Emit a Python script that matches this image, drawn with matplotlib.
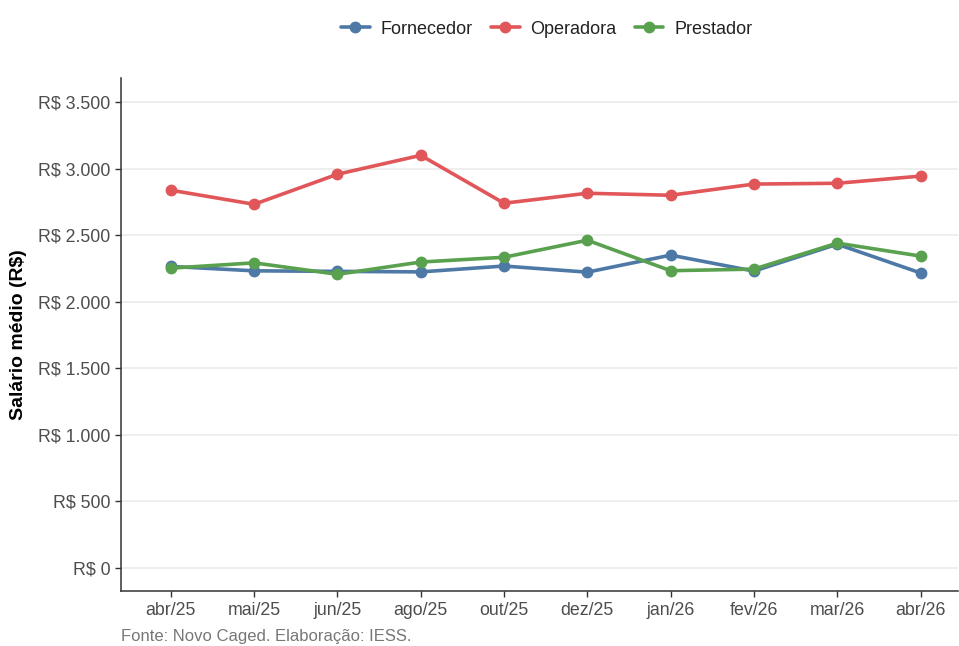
import matplotlib
matplotlib.use("Agg")
import matplotlib.pyplot as plt

meses = ["abr/25", "mai/25", "jun/25", "ago/25", "out/25", "dez/25",
         "jan/26", "fev/26", "mar/26", "abr/26"]
fornecedor = [2265, 2232, 2228, 2224, 2268, 2222, 2350, 2230, 2432, 2216]
operadora = [2838, 2732, 2958, 3100, 2740, 2815, 2800, 2884, 2890, 2944]
prestador = [2252, 2292, 2206, 2298, 2334, 2462, 2233, 2245, 2440, 2343]
yticks = [0, 500, 1000, 1500, 2000, 2500, 3000, 3500]

plt.rcParams["font.family"] = ["Liberation Sans", "DejaVu Sans"]

fig = plt.figure(figsize=(9.59, 6.46), dpi=100)
ax = fig.add_axes([0.126, 0.085, 0.873, 0.794])

x = range(len(meses))
series = [("Fornecedor", fornecedor, "#4E79A7"),
          ("Operadora", operadora, "#E15759"),
          ("Prestador", prestador, "#59A14F")]
for nome, vals, cor in series:
    ax.plot(x, vals, color=cor, lw=2.6, marker="o", ms=7.5, label=nome,
            solid_capstyle="round")

ax.set_xlim(-0.6, 9.45)
ax.set_ylim(-175, 3680)
ax.set_xticks(list(x))
ax.set_xticklabels(meses)
ax.set_yticks(yticks)
ax.set_yticklabels(["R$ " + f"{v:,}".replace(",", ".") for v in yticks])
ax.tick_params(labelsize=12.8, labelcolor="#4D4D4D", color="#333333",
               length=4, width=1)
ax.grid(axis="y", color="#EBEBEB", lw=1.2)
ax.set_axisbelow(True)
for s in ["top", "right"]:
    ax.spines[s].set_visible(False)
for s in ["left", "bottom"]:
    ax.spines[s].set_color("#333333")
    ax.spines[s].set_linewidth(1.1)

ax.set_ylabel("Salário médio (R$)", fontsize=14, fontweight="bold", labelpad=8)

fig.legend(loc="center", bbox_to_anchor=(0.57, 0.955), ncol=3, frameon=False,
           fontsize=13, handlelength=1.6, columnspacing=1.0, handletextpad=0.6,
           labelcolor="#222222")

fig.text(0.126, 0.003, "Fonte: Novo Caged. Elaboração: IESS.", fontsize=12,
         color="#777777", ha="left", va="bottom")

fig.savefig("out.png", dpi=100)
